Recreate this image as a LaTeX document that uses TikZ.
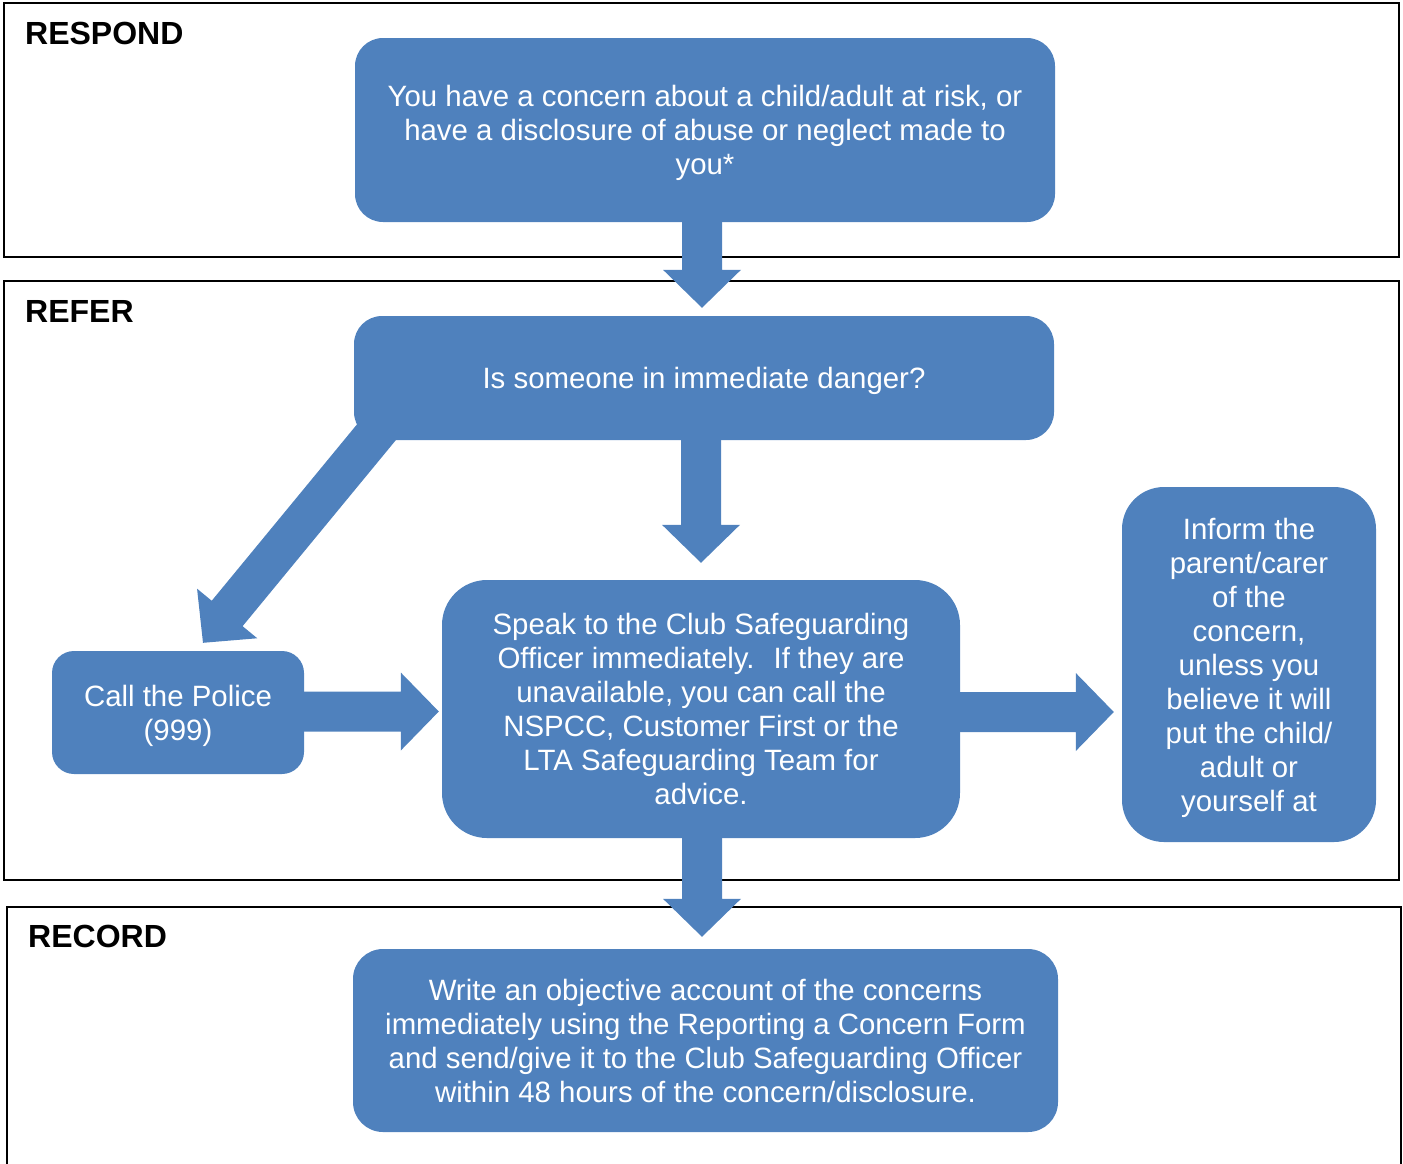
\documentclass[tikz,border=0pt]{standalone}
\usepackage{fontspec}
\setmainfont{Liberation Sans}
\usetikzlibrary{calc}
\definecolor{boxblue}{HTML}{4F81BD}
\tikzset{
  frame/.style={draw=black, line width=2pt},
  sectlabel/.style={anchor=base west, inner sep=0pt, font=\fontsize{32}{37}\selectfont\bfseries},
  stepbox/.style={fill=boxblue, text=white, align=center, inner sep=0pt, text depth=0pt,
    font=\fontsize{29.4}{34}\selectfont},
  arrowfill/.style={fill=boxblue}
}
\newcommand\blockarrow[2]{%
  \coordinate (ba-h) at ($(#2)!38pt!(#1)$);
  \fill[arrowfill] ($(#1)!20pt!90:(#2)$) -- ($(ba-h)!20pt!-90:(#1)$) -- ($(ba-h)!39pt!-90:(#1)$) -- (#2)
    -- ($(ba-h)!39pt!90:(#1)$) -- ($(ba-h)!20pt!90:(#1)$) -- ($(#1)!20pt!-90:(#2)$) -- cycle;}
\begin{document}
\begin{tikzpicture}[x=1pt,y=-1pt]
\useasboundingbox (0,0) rectangle (1403,1163);
% frames
\draw[frame] (4,3) rectangle (1399,257);
\draw[frame] (4,281) rectangle (1399,880);
\draw[frame] (7,1170) -- (7,907) -- (1401,907) -- (1401,1170);
\node[sectlabel] (lrespond) at (25,44) {RESPOND};
\node[sectlabel] (lrefer) at (25,322) {REFER};
\node[sectlabel] (lrecord) at (28,947) {RECORD};
% boxes
\node[stepbox, minimum width=700pt, minimum height=184pt, rounded corners=28pt] (b1) at (705,130)
  {You have a concern about a child/adult at risk, or\\have a disclosure of abuse or neglect made to\\you*};
\node[stepbox, minimum width=700pt, minimum height=124pt, rounded corners=28pt] (b2) at (704,378)
  {Is someone in immediate danger?};
\node[stepbox, minimum width=252pt, minimum height=123pt, rounded corners=22pt] (call) at (178,712.5)
  {Call the Police\\(999)};
\node[stepbox, minimum width=518pt, minimum height=258pt, rounded corners=45pt] (speak) at (701,709)
  {Speak to the Club Safeguarding\\Officer immediately.~ If they are\\unavailable, you can call the\\NSPCC, Customer First or the\\LTA Safeguarding Team for\\advice.};
\node[stepbox, minimum width=254pt, minimum height=355pt, rounded corners=42pt] (inform) at (1249,664.5)
  {Inform the\\parent/carer\\of the\\concern,\\unless you\\believe it will\\put the child/\\adult or\\yourself at};
\node[stepbox, minimum width=705pt, minimum height=183pt, rounded corners=30pt] (record) at (705.5,1040.5)
  {Write an objective account of the concerns\\immediately using the Reporting a Concern Form\\and send/give it to the Club Safeguarding Officer\\within 48 hours of the concern/disclosure.};
% connectors
\coordinate (a1s) at ($(b1.south)+(-3,-2)$);
\coordinate (a1e) at ($(b2.north)+(-2,-8)$);
\blockarrow{a1s}{a1e}
\coordinate (a2s) at ($(b2.south)+(-3,-2)$);
\coordinate (a2e) at ($(speak.north)+(0,-17)$);
\blockarrow{a2s}{a2e}
\coordinate (a3s) at ($(b2.south west)+(49,-40)$);
\coordinate (a3e) at ($(call.north)+(25,-8)$);
\blockarrow{a3s}{a3e}
\coordinate (a4s) at ($(call.east)+(-2,-1)$);
\coordinate (a4e) at ($(speak.west)+(-3,2.5)$);
\blockarrow{a4s}{a4e}
\coordinate (a5s) at ($(speak.east)+(-2,3)$);
\coordinate (a5e) at ($(speak.east -| inform.west)+(-8,3)$);
\blockarrow{a5s}{a5e}
\coordinate (a6s) at ($(speak.south)+(1,-2)$);
\coordinate (a6e) at ($(record.north)+(-3.5,-12)$);
\blockarrow{a6s}{a6e}
\end{tikzpicture}
\end{document}
